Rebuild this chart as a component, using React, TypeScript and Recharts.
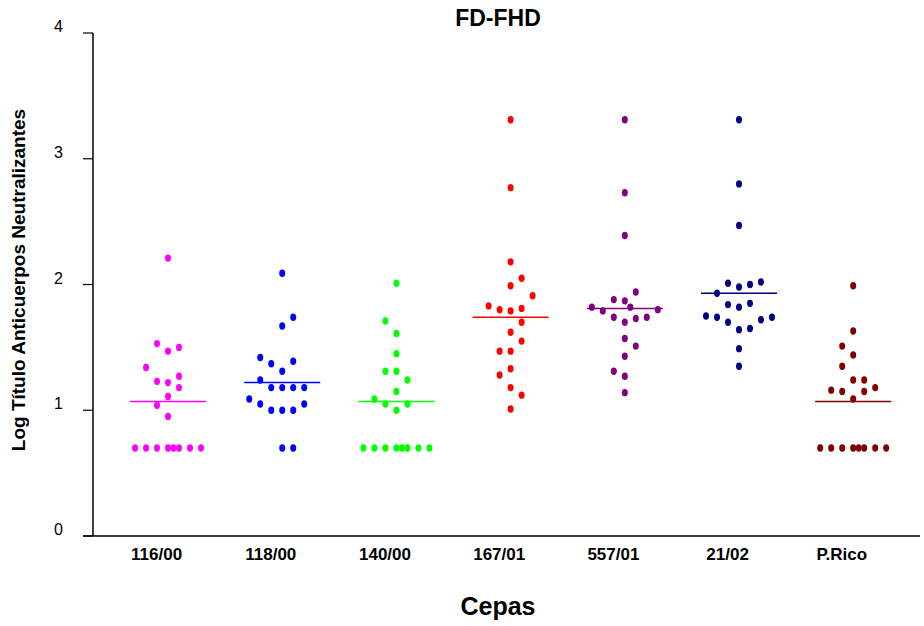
import React from 'react';
import { ScatterChart, Scatter, XAxis, YAxis, ReferenceLine } from 'recharts';

const categories = ['116/00', '118/00', '140/00', '167/01', '557/01', '21/02', 'P.Rico'];
const colors = ['#FF00FF', '#0000FF', '#00FF00', '#FF0000', '#800080', '#000080', '#800000'];
const yTicks = [0, 1, 2, 3, 4];

// values (log titre) and horizontal jitter column of each dot
const v116 = [2.21, 1.53, 1.47, 1.5, 1.34, 1.23, 1.22, 1.27, 1.18, 1.11, 1.04, 0.95, 0.7, 0.7, 0.7, 0.7, 0.7, 0.7, 0.7, 0.7];
const c116 = [0, -1, 0, 1, -2, -1, 0, 1, 1, 0, -1, 0, -3, -2, -1, 0, 0.5, 1, 2, 3];
const v118 = [2.09, 1.74, 1.67, 1.42, 1.37, 1.39, 1.31, 1.24, 1.18, 1.18, 1.18, 1.18, 1.09, 1.05, 1.0, 1.0, 1.0, 1.05, 0.7, 0.7];
const c118 = [0, 1, 0, -2, -1, 1, 0, -2, -1, 0, 1, 2, -3, -2, -1, 0, 1, 2, 0, 1];
const v140 = [2.01, 1.71, 1.61, 1.45, 1.31, 1.31, 1.24, 1.15, 1.09, 1.05, 1.05, 1.0, 0.7, 0.7, 0.7, 0.7, 0.7, 0.7, 0.7, 0.7];
const c140 = [0, -1, 0, 0, -1, 0, 1, 0, -2, -1, 1, 0, -3, -2, -1, 0, 0.5, 1, 2, 3];
const v167 = [3.31, 2.77, 2.18, 2.05, 1.99, 1.91, 1.83, 1.8, 1.79, 1.81, 1.7, 1.62, 1.55, 1.47, 1.47, 1.33, 1.28, 1.18, 1.12, 1.01];
const c167 = [0, 0, 0, 1, 0, 2, -2, -1, 0, 1, 1, 0, 1, -1, 0, 0, -1, 0, 1, 0];
const v557 = [3.31, 2.73, 2.39, 1.94, 1.88, 1.87, 1.82, 1.79, 1.82, 1.8, 1.74, 1.7, 1.73, 1.74, 1.57, 1.51, 1.43, 1.31, 1.27, 1.14];
const c557 = [0, 0, 0, 1, -1, 0, -3, -2, 0.5, 3, -1, 0, 1, 2, 0, 1, 0, -1, 0, 0];
const v2102 = [3.31, 2.8, 2.47, 2.01, 1.98, 2.0, 2.02, 1.93, 1.84, 1.82, 1.85, 1.75, 1.74, 1.7, 1.72, 1.74, 1.64, 1.65, 1.49, 1.35];
const c2102 = [0, 0, 0, -1, 0, 1, 2, -2, -1, 0, 1, -3, -2, -1, 2, 3, 0, 1, 0, 0];
const vPR = [1.99, 1.63, 1.51, 1.44, 1.35, 1.24, 1.24, 1.16, 1.15, 1.15, 1.18, 1.09, 0.7, 0.7, 0.7, 0.7, 0.7, 0.7, 0.7, 0.7];
const cPR = [0, 0, -1, 0, -1, 0, 1, -2, -1, 1, 2, 0, -3, -2, -1, 0, 0.5, 1, 2, 3];

const means = [1.07, 1.22, 1.07, 1.74, 1.81, 1.93, 1.07];

const groupValues = [v116, v118, v140, v167, v557, v2102, vPR];
const groupCols = [c116, c118, c140, c167, c557, c2102, cPR];

const COL = 0.0963; // jitter step in category units
const HALF = 0.333; // half width of mean bar
const LABEL_SHIFT = 0.1;
const X_DOMAIN: [number, number] = [0.343, 7.585];

const groups = groupValues.map((vals, g) =>
  vals.map((v, k) => ({ x: g + 1 + groupCols[g][k] * COL, y: v }))
);
const labelTicks = categories.map((_, i) => i + 1 - LABEL_SHIFT);

const FONT = '"Liberation Sans", Arial, Helvetica, sans-serif';

const XTick = (props: any) => {
  const { x, y, index } = props;
  return (
    <text x={x} y={y} dy={24} textAnchor="middle" fontSize={17} fontWeight="bold" fontFamily={FONT} fill="#000">
      {categories[index]}
    </text>
  );
};

const YTick = (props: any) => {
  const { x, y, payload } = props;
  return (
    <text x={x} y={y - 1} textAnchor="end" fontSize={16} fontFamily={FONT} fill="#000">
      {payload.value}
    </text>
  );
};

const makeDot = (color: string) => (props: any) => (
  <ellipse cx={props.cx} cy={props.cy} rx={3} ry={3.7} fill={color} />
);

export default function App() {
  return (
    <div style={{ position: 'absolute', left: 0, top: 0, width: 924, height: 626, background: '#fff', fontFamily: FONT }}>
      <ScatterChart width={924} height={626} margin={{ top: 33, right: 4, left: 0, bottom: 0 }}>
        <XAxis
          type="number"
          dataKey="x"
          domain={X_DOMAIN}
          allowDataOverflow
          ticks={labelTicks}
          tick={<XTick />}
          tickLine={false}
          tickSize={0}
          tickMargin={0}
          height={90}
          axisLine={{ stroke: '#000', strokeWidth: 1.5 }}
          interval={0}
        />
        <YAxis
          type="number"
          dataKey="y"
          domain={[0, 4]}
          ticks={yTicks}
          width={93}
          tickSize={10}
          tickMargin={20}
          tick={<YTick />}
          axisLine={{ stroke: '#000', strokeWidth: 1.5 }}
          tickLine={{ stroke: '#000', strokeWidth: 1.2 }}
          interval={0}
        />
        <ReferenceLine
          segment={[{ x: 0.256, y: 0 }, { x: X_DOMAIN[0], y: 0 }]}
          stroke="#000"
          strokeWidth={1.5}
          ifOverflow="visible"
        />
        {means.map((m, g) => (
          <ReferenceLine
            key={'m' + g}
            segment={[{ x: g + 1 - HALF, y: m }, { x: g + 1 + HALF, y: m }]}
            stroke={colors[g]}
            strokeWidth={1.5}
            ifOverflow="visible"
          />
        ))}
        {groups.map((data, g) => (
          <Scatter
            key={categories[g]}
            name={categories[g]}
            data={data}
            fill={colors[g]}
            shape={makeDot(colors[g])}
            isAnimationActive={false}
          />
        ))}
      </ScatterChart>
      <div style={{ position: 'absolute', left: 398, width: 200, top: 3, lineHeight: '30px', textAlign: 'center', fontWeight: 'bold', fontSize: 23, color: '#000' }}>
        FD-FHD
      </div>
      <div style={{ position: 'absolute', left: 398, width: 200, top: 591, lineHeight: '30px', textAlign: 'center', fontWeight: 'bold', fontSize: 25, color: '#000' }}>
        Cepas
      </div>
      <div
        style={{
          position: 'absolute',
          left: 19 - 250,
          width: 500,
          top: 280 - 12,
          height: 24,
          lineHeight: '24px',
          textAlign: 'center',
          fontWeight: 'bold',
          fontSize: 19,
          color: '#000',
          transform: 'rotate(-90deg)',
          transformOrigin: '50% 50%',
          whiteSpace: 'nowrap',
        }}
      >
        Log Título Anticuerpos Neutralizantes
      </div>
    </div>
  );
}
